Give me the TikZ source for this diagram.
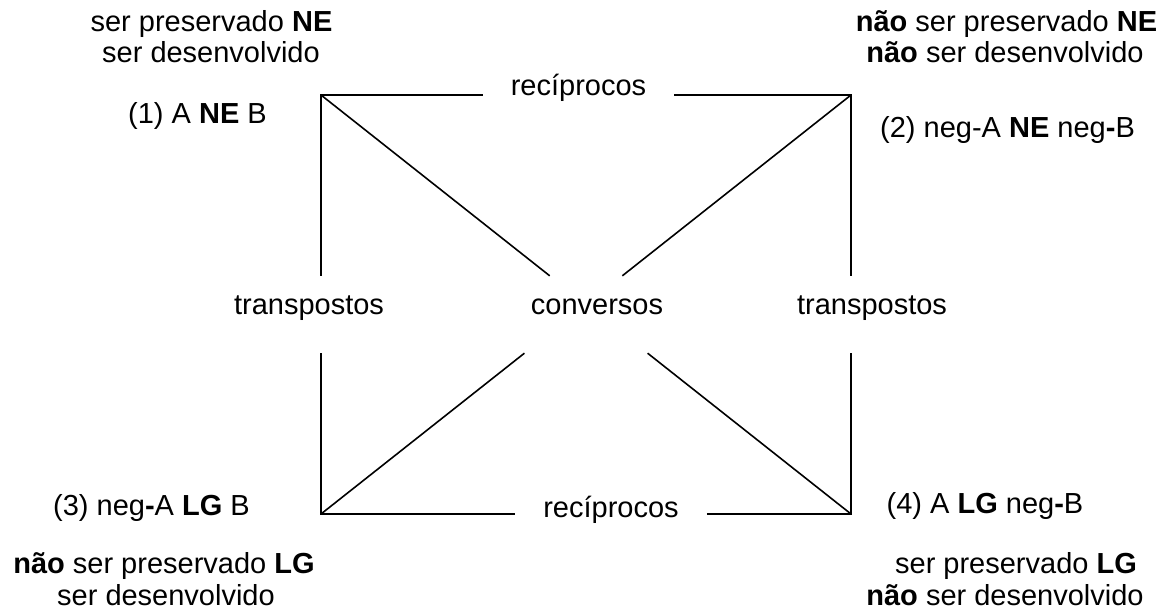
\documentclass[tikz,border=0pt]{standalone}
\usepackage{fontspec}
\setmainfont{Liberation Sans}
\begin{document}
\begin{tikzpicture}[x=1pt,y=-1pt,
  lbl/.style={inner sep=0pt,anchor=base,font=\fontsize{29}{31}\selectfont},
  gaplbl/.style={lbl,inner xsep=28pt,inner ysep=0pt},
  midlbl/.style={lbl,text height=38pt,text depth=39pt},
  edge/.style={draw=black,line width=1.6pt,line join=miter}]
\useasboundingbox (0,0) rectangle (1170,615);
% corners
\coordinate (tl) at (321,95);
\coordinate (tr) at (851,95);
\coordinate (bl) at (321,514);
\coordinate (br) at (851,514);
% corner texts
\node[lbl] (tla) at (211.5,32) {ser preservado \textbf{NE}};
\node[lbl] (tlb) at (211,63) {ser desenvolvido};
\node[lbl] (n1) at (197.5,124) {(1) A \textbf{NE} B};
\node[lbl] (tra) at (1006.5,32) {\textbf{não} ser preservado \textbf{NE}};
\node[lbl] (trb) at (1005,63) {\textbf{não} ser desenvolvido};
\node[lbl] (n2) at (1007.5,138) {(2) neg-A \textbf{NE} neg\textbf{-}B};
\node[lbl] (n3) at (151.5,515) {(3) neg\textbf{-}A \textbf{LG} B};
\node[lbl] (bla) at (164,573) {\textbf{não} ser preservado \textbf{LG}};
\node[lbl] (blb) at (166,605) {ser desenvolvido};
\node[lbl] (n4) at (985,513) {(4) A \textbf{LG} neg\textbf{-}B};
\node[lbl] (bra) at (1016,573) {ser preservado \textbf{LG}};
\node[lbl] (brb) at (1005,605) {\textbf{não} ser desenvolvido};
% edge labels
\node[gaplbl] (rect) at (578.5,96) {recíprocos};
\node[gaplbl] (recb) at (611,517) {recíprocos};
\node[midlbl] (tpl) at (309,314) {transpostos};
\node[midlbl] (tpr) at (872,314) {transpostos};
\node[midlbl] (conv) at (597,314) {conversos};
% square sides
\draw[edge] (tl |- tpl.north) -- (tl) -- (tl -| rect.west);
\draw[edge] (tr -| rect.east) -- (tr) -- (tr |- tpr.north);
\draw[edge] (bl |- tpl.south) -- (bl) -- (bl -| recb.west);
\draw[edge] (br -| recb.east) -- (br) -- (br |- tpr.south);
% diagonals
\draw[edge] (tl) -- (intersection of tl--br and conv.north west--conv.north east);
\draw[edge] (tr) -- (intersection of tr--bl and conv.north west--conv.north east);
\draw[edge] (bl) -- (intersection of tr--bl and conv.south west--conv.south east);
\draw[edge] (br) -- (intersection of tl--br and conv.south west--conv.south east);
\end{tikzpicture}
\end{document}
